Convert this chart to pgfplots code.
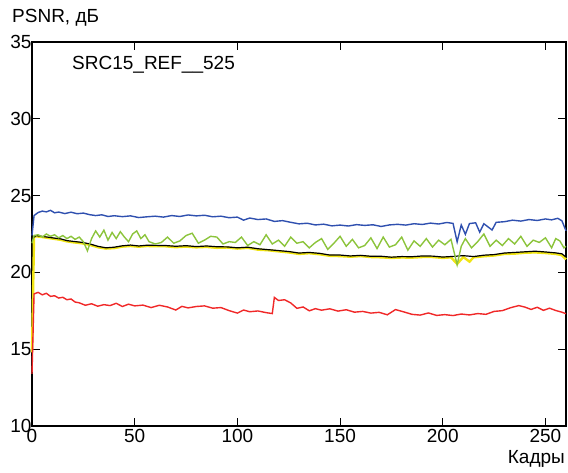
\documentclass[border=0pt]{standalone}
\usepackage{pgfplots}
\pgfplotsset{compat=1.18}
\usepackage{fontspec}
\setmainfont{Liberation Sans}
\definecolor{cblue}{RGB}{47,80,175}
\definecolor{cgreen}{RGB}{140,196,60}
\definecolor{cyellow}{RGB}{240,228,20}
\definecolor{cred}{RGB}{240,40,40}
\begin{document}
\begin{tikzpicture}[x=1pt,y=1pt]
\useasboundingbox (-32,-46) rectangle (536,426);
\begin{axis}[
  at={(0,0)}, anchor=south west,
  scale only axis, width=534pt, height=384pt,
  xmin=0, xmax=260, ymin=10, ymax=35,
  xtick={0,50,100,150,200,250},
  ytick={10,15,20,25,30,35},
  tick align=inside, tick pos=both,
  major tick length=8pt,
  axis line style={line width=1.2pt},
  every tick/.style={line width=1pt, black},
  /pgf/number format/assume math mode=true,
  ticklabel style={font=\fontsize{19}{21}\selectfont},
  xticklabel style={yshift=0pt},
  yticklabel style={xshift=3pt},
  clip=false,
]
\addplot[cyellow, line width=2.4pt] coordinates {
(0,14.8)(1,22.3)(2,22.35)(5,22.3)(8,22.24)(11,22.18)(14,22.12)(17,22.02)(20,21.96)(24,21.9)(28,21.8)(32,21.64)(36,21.55)(40,21.58)(44,21.68)(48,21.72)(52,21.67)(56,21.72)(60,21.7)(65,21.7)(70,21.64)(75,21.68)(80,21.63)(85,21.66)(90,21.6)(95,21.62)(100,21.55)(105,21.6)(110,21.48)(115,21.44)(120,21.37)(125,21.3)(130,21.2)(135,21.25)(140,21.18)(145,21.08)(150,21.06)(155,21.02)(160,21.06)(165,21.0)(170,20.98)(175,20.94)(180,20.97)(185,20.96)(190,21.0)(195,21.0)(200,20.94)(204,20.98)(207,20.55)(210,21.0)(213,20.7)(215,20.98)(220,21.05)(225,21.1)(230,21.2)(235,21.22)(240,21.28)(245,21.3)(250,21.26)(255,21.2)(258,21.12)(260,20.85)
};
\addplot[black, line width=1.2pt] coordinates {
(0,22.2)(2,22.4)(5,22.34)(8,22.29)(11,22.23)(14,22.18)(17,22.07)(20,22.02)(24,21.96)(28,21.86)(32,21.7)(36,21.6)(40,21.64)(44,21.73)(48,21.78)(52,21.72)(56,21.77)(60,21.76)(65,21.75)(70,21.7)(75,21.74)(80,21.68)(85,21.72)(90,21.67)(95,21.66)(100,21.6)(105,21.64)(110,21.54)(115,21.48)(120,21.42)(125,21.36)(130,21.26)(135,21.3)(140,21.24)(145,21.13)(150,21.13)(155,21.07)(160,21.11)(165,21.05)(170,21.05)(175,20.99)(180,21.03)(185,21.02)(190,21.07)(195,21.06)(200,21.0)(205,21.04)(210,21.09)(215,21.03)(220,21.12)(225,21.16)(230,21.26)(235,21.3)(240,21.34)(245,21.38)(250,21.33)(255,21.27)(258,21.21)(260,21.0)
};
\addplot[cgreen, line width=1.4pt] coordinates {
(0,21.9)(1,22.4)(3,22.45)(5,22.3)(7,22.5)(9,22.35)(11,22.45)(13,22.25)(15,22.4)(17,22.2)(19,22.35)(21,22.15)(23,22.3)(25,22.0)(27,21.4)(29,22.2)(31,22.7)(33,22.3)(35,22.75)(37,22.1)(39,22.6)(41,22.2)(43,22.65)(45,22.3)(47,22.0)(49,22.5)(51,22.7)(53,22.2)(55,22.45)(57,22.0)(60,21.85)(63,21.95)(66,22.3)(69,21.9)(72,22.05)(75,22.4)(78,22.55)(81,21.9)(84,22.1)(87,22.35)(90,22.3)(93,21.85)(96,22.0)(99,21.95)(102,22.3)(105,21.75)(108,22.0)(111,21.8)(114,22.45)(117,21.85)(120,22.1)(123,21.7)(126,22.3)(129,21.9)(132,22.0)(135,21.6)(138,21.95)(141,22.2)(144,21.5)(147,21.9)(150,22.35)(153,21.7)(156,22.15)(159,21.6)(162,21.75)(165,22.25)(168,21.55)(171,22.3)(174,21.65)(177,21.8)(180,22.3)(183,21.45)(186,22.05)(189,21.7)(192,22.2)(195,21.65)(198,22.1)(201,21.8)(204,22.15)(207,20.5)(209,21.7)(211,22.2)(214,21.6)(217,22.0)(220,22.5)(223,21.7)(226,22.1)(229,21.75)(232,22.2)(235,21.85)(238,22.35)(241,21.7)(244,22.1)(247,21.95)(250,22.25)(253,21.6)(255,22.2)(257,22.05)(259,21.6)(260,21.7)
};
\addplot[cblue, line width=1.4pt] coordinates {
(0,22.4)(1,23.7)(3,23.9)(5,23.99)(7,23.94)(9,24.04)(11,23.88)(13,23.93)(16,23.83)(19,23.92)(22,23.82)(25,23.86)(28,23.76)(31,23.7)(34,23.75)(37,23.64)(40,23.69)(44,23.63)(48,23.68)(52,23.57)(56,23.62)(60,23.66)(64,23.6)(68,23.7)(72,23.64)(76,23.74)(80,23.68)(84,23.72)(88,23.62)(92,23.66)(96,23.56)(100,23.6)(103,23.4)(106,23.54)(110,23.44)(114,23.48)(118,23.32)(122,23.37)(126,23.26)(130,23.16)(134,23.2)(138,23.09)(142,23.14)(146,23.03)(150,23.08)(154,23.02)(158,23.11)(162,23.06)(166,23.1)(170,22.99)(174,23.09)(178,23.13)(182,23.08)(186,23.17)(190,23.12)(194,23.21)(198,23.15)(202,23.25)(205,23.19)(207,21.99)(209,23.09)(211,22.48)(213,23.18)(216,23.23)(218,22.62)(220,23.17)(224,22.76)(226,23.26)(230,23.3)(234,23.4)(238,23.34)(242,23.44)(246,23.38)(250,23.48)(253,23.42)(256,23.52)(258,23.36)(260,22.71)
};
\addplot[cred, line width=1.4pt] coordinates {
(0,13.4)(1,18.6)(3,18.7)(5,18.54)(7,18.64)(9,18.44)(11,18.48)(13,18.33)(15,18.38)(17,18.22)(19,18.27)(21,18.07)(23,18.02)(26,17.86)(29,17.96)(32,17.8)(35,17.9)(38,17.84)(41,17.99)(44,17.78)(47,17.93)(50,17.82)(54,17.87)(58,17.71)(62,17.86)(66,17.75)(70,17.55)(73,17.79)(76,17.69)(80,17.78)(84,17.82)(88,17.67)(92,17.71)(96,17.51)(100,17.35)(103,17.55)(106,17.44)(110,17.49)(114,17.38)(117,17.32)(118,18.37)(120,18.17)(123,18.22)(126,18.01)(129,17.66)(132,17.75)(135,17.5)(138,17.64)(141,17.54)(145,17.63)(149,17.48)(153,17.57)(157,17.41)(161,17.46)(165,17.35)(169,17.4)(173,17.24)(177,17.58)(181,17.43)(185,17.27)(189,17.22)(193,17.36)(197,17.2)(201,17.25)(205,17.19)(209,17.29)(213,17.23)(217,17.32)(221,17.27)(225,17.46)(229,17.51)(233,17.7)(237,17.84)(240,17.74)(243,17.59)(246,17.73)(249,17.53)(252,17.67)(255,17.52)(258,17.41)(260,17.31)
};
\end{axis}
\node[anchor=west, inner sep=0pt, font=\fontsize{19}{21}\selectfont] at (-20,408) {PSNR, дБ};
\node[anchor=west, inner sep=0pt, font=\fontsize{19}{21}\selectfont] at (40,361) {SRC15\_REF\_\_525};
\node[anchor=east, inner sep=0pt, font=\fontsize{19}{21}\selectfont] at (533,-33) {Кадры};
\end{tikzpicture}
\end{document}
